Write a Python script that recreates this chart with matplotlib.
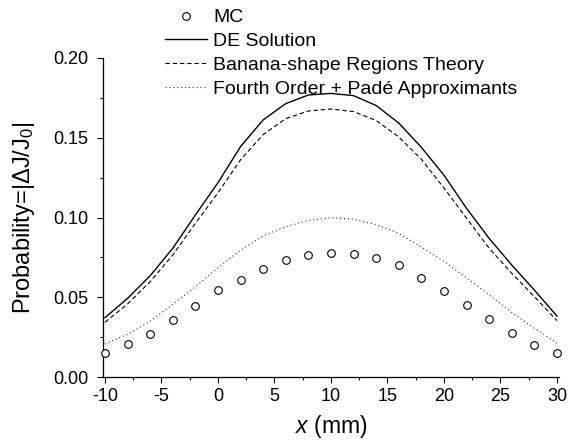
import numpy as np
import matplotlib
matplotlib.use("Agg")
import matplotlib.pyplot as plt

plt.rcParams['font.family'] = ['Liberation Sans', 'DejaVu Sans']
plt.rcParams['mathtext.fontset'] = 'custom'
plt.rcParams['mathtext.rm'] = 'Liberation Sans'
plt.rcParams['mathtext.it'] = 'Liberation Sans:italic'
plt.rcParams['axes.unicode_minus'] = False

# Monte Carlo points (x in mm)
x_mc = [-10, -8, -6, -4, -2, 0, 2, 4, 6, 8, 10, 12, 14, 16, 18, 20, 22, 24, 26, 28, 30]
p_mc = [0.0153, 0.0207, 0.0272, 0.0356, 0.0446, 0.0544, 0.0611, 0.0680, 0.0732, 0.0762,
        0.0780, 0.0772, 0.0743, 0.0701, 0.0623, 0.0540, 0.0454, 0.0362, 0.0276, 0.0203, 0.0149]

# Theory curves
x_th = [-10, -8, -6, -4, -2, 0, 2, 4, 6, 8, 10, 12, 14, 16, 18, 20, 22, 24, 26, 28, 30]
p_de = [0.0372, 0.0493, 0.0635, 0.0807, 0.1016, 0.1218, 0.1445, 0.1612, 0.1714, 0.1768,
        0.1778, 0.1764, 0.1702, 0.1592, 0.1440, 0.1265, 0.1057, 0.0869, 0.0702, 0.0545, 0.0382]
p_banana = [0.0343, 0.0458, 0.0598, 0.0765, 0.0963, 0.1155, 0.1362, 0.1520, 0.1620, 0.1668,
            0.1680, 0.1664, 0.1608, 0.1505, 0.1365, 0.1185, 0.0995, 0.0807, 0.0650, 0.0504, 0.0353]
p_pade = [0.0207, 0.0268, 0.0350, 0.0455, 0.0565, 0.0685, 0.0795, 0.0885, 0.0943, 0.0982,
          0.0998, 0.0990, 0.0955, 0.0900, 0.0815, 0.0725, 0.0622, 0.0515, 0.0405, 0.0305, 0.0213]

fig = plt.figure(figsize=(5.7, 4.41), dpi=100)
ax = fig.add_axes([0.1802, 0.1451, 0.8009, 0.7234])

ax.plot(x_mc, p_mc, 'o', mfc='white', mec='black', ms=5.5, mew=0.8,
        label='MC', clip_on=False, zorder=3)
ax.plot(x_th, p_de, color='black', lw=1.0, label='DE Solution')
ax.plot(x_th, p_banana, color='black', lw=0.8, dashes=(4, 2.5),
        label='Banana-shape Regions Theory')
ax.plot(x_th, p_pade, color='#333333', lw=0.8, dashes=(1, 2.5),
        label='Fourth Order + Padé Approximants')

ax.set_xlim(-10.2, 30.2)
ax.set_ylim(0, 0.2)
ax.set_xticks(np.arange(-10, 31, 5))
ax.set_xticks(np.arange(-7.5, 30, 5), minor=True)
ax.set_yticks(np.arange(0, 0.201, 0.05))
ax.set_yticks(np.arange(0.025, 0.2, 0.05), minor=True)
ax.yaxis.set_major_formatter(plt.FormatStrFormatter('%.2f'))

for s in ['top', 'right']:
    ax.spines[s].set_visible(False)
for s in ['left', 'bottom']:
    ax.spines[s].set_linewidth(0.9)

ax.tick_params(which='major', direction='out', length=4.5, width=0.8, labelsize=13)
ax.tick_params(which='minor', direction='out', length=2.5, width=0.8)
ax.tick_params(axis='y', which='major', pad=6)

ax.set_xlabel('$x$ (mm)', fontsize=16.5, labelpad=6)
ax.set_ylabel('Probability=|ΔJ/J$_0$|', fontsize=17)
ax.yaxis.set_label_coords(-0.144, 0.5)

# Legend sits above the plot area, no frame
fig.legend(loc='upper left', bbox_to_anchor=(165 / 570, 0.980), frameon=False,
           fontsize=14, borderpad=0, labelspacing=0.32, handlelength=2.15,
           handletextpad=0.34, borderaxespad=0)

fig.savefig('out.png', dpi=100)
